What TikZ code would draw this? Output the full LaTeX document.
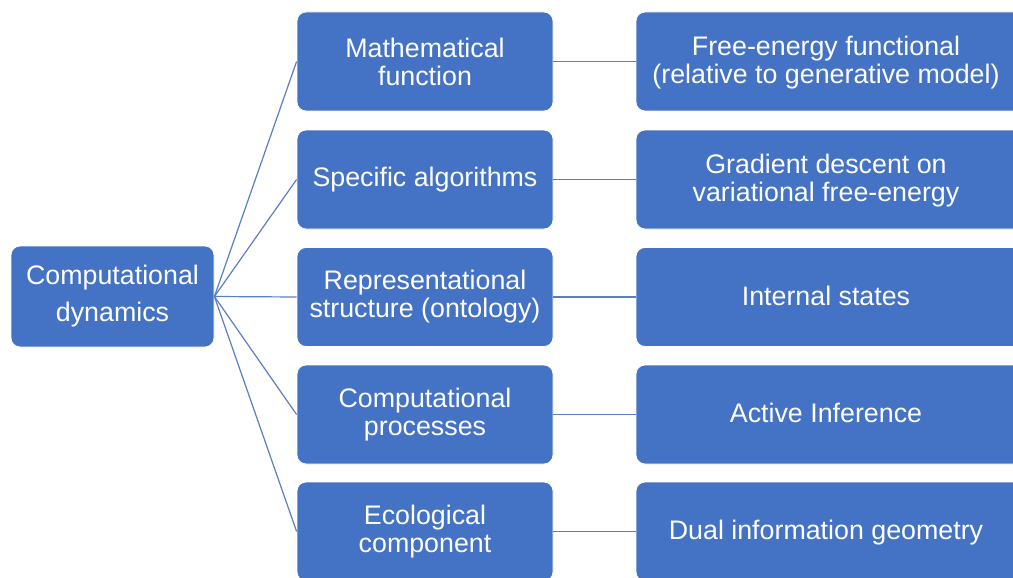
\documentclass[tikz,border=0pt]{standalone}
\usepackage{fontspec}
\setmainfont{Liberation Sans}
\definecolor{boxblue}{HTML}{4472C4}
\definecolor{linkblue}{HTML}{5A7EC6}
\newcommand\rtext[1]{\raisebox{-2.5pt}[\height][\depth]{\begin{tabular}{@{}c@{\hspace{20pt}}}#1\end{tabular}}}
\begin{document}
\begin{tikzpicture}[x=1pt,y=-1pt,
  box/.style={rectangle, rounded corners=9pt, fill=boxblue, draw=white, line width=0.8pt,
    text=white, align=center, inner sep=0pt},
  rootbox/.style={box, minimum width=203pt, minimum height=101pt,
    font=\fontsize{26.8}{37}\selectfont},
  midbox/.style={box, minimum width=256pt, minimum height=99pt,
    font=\fontsize{26.8}{28}\selectfont},
  rightbox/.style={box, minimum width=400pt, minimum height=99pt,
    font=\fontsize{26.8}{28}\selectfont},
  link/.style={draw=linkblue, line width=1.2pt}]
\useasboundingbox (0,0) rectangle (1013,578);
\clip (0,0) rectangle (1013,578);
\node[rootbox] (root) at (112.5,296.5) {Computational\\dynamics};
\node[midbox] (m1) at (425,61.5) {Mathematical\\function};
\node[midbox] (m2) at (425,179.5) {Specific algorithms};
\node[midbox] (m3) at (425,297) {Representational\\structure (ontology)};
\node[midbox] (m4) at (425,414.5) {Computational\\processes};
\node[midbox] (m5) at (425,531.5) {Ecological\\component};
\node[rightbox] (r1) at (836,61.5) {\rtext{Free-energy functional\\(relative to generative model)}};
\node[rightbox] (r2) at (836,179.5) {\rtext{Gradient descent on\\variational free-energy}};
\node[rightbox] (r3) at (836,297) {\rtext{Internal states}};
\node[rightbox] (r4) at (836,414.5) {\rtext{Active Inference}};
\node[rightbox] (r5) at (836,531.5) {\rtext{Dual information geometry}};
\foreach \i in {1,...,5} {
  \draw[link] (root.east) -- (m\i.west);
  \draw[link] (m\i.east) -- (r\i.west);
}
\end{tikzpicture}
\end{document}
